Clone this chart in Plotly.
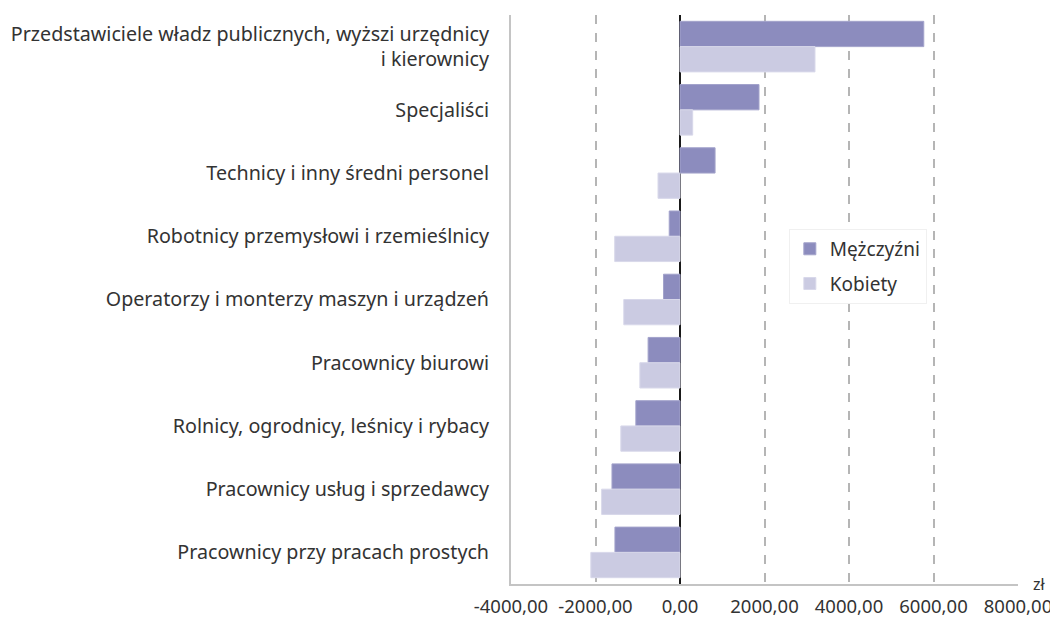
"""Różnica wynagrodzeń wg grup zawodów — poziomy wykres słupkowy (Plotly)."""

import plotly.graph_objects as go

categories = [
    "Przedstawiciele władz publicznych, wyższi urzędnicy<br>i kierownicy",
    "Specjaliści",
    "Technicy i inny średni personel",
    "Robotnicy przemysłowi i rzemieślnicy",
    "Operatorzy i monterzy maszyn i urządzeń",
    "Pracownicy biurowi",
    "Rolnicy, ogrodnicy, leśnicy i rybacy",
    "Pracownicy usług i sprzedawcy",
    "Pracownicy przy pracach prostych",
]
men = [5770, 1870, 830, -255, -390, -755, -1045, -1610, -1540]
women = [3195, 300, -520, -1545, -1330, -950, -1400, -1855, -2110]

tick_vals = [-4000, -2000, 0, 2000, 4000, 6000, 8000]
tick_text = ["-4000,00", "-2000,00", "0,00", "2000,00", "4000,00", "6000,00", "8000,00"]

FONT = "Noto Sans, Open Sans, sans-serif"
TEXT = "#333333"

fig = go.Figure()

# Mężczyźni — ciemniejszy fiolet, Kobiety — jasny
fig.add_trace(
    go.Bar(
        y=categories,
        x=men,
        name="Mężczyźni",
        legendgroup="m",
        orientation="h",
        marker=dict(color="#8c8cbe", line=dict(color="#a3a3cb", width=1)),
    )
)
fig.add_trace(
    go.Bar(
        y=categories,
        x=women,
        name="Kobiety",
        legendgroup="k",
        orientation="h",
        marker=dict(color="#cbcbe2", line=dict(color="#d8d8ea", width=1)),
    )
)

fig.add_annotation(
    text="zł",
    xref="paper",
    yref="paper",
    x=1.043,
    y=0.0,
    xanchor="center",
    yanchor="middle",
    showarrow=False,
    font=dict(size=16, color=TEXT, family=FONT),
)

# page body has an 8px margin, so the figure is a bit smaller than the window
fig.update_layout(
    width=1050,
    height=611,
    barmode="group",
    bargap=0.2,
    bargroupgap=0,
    paper_bgcolor="white",
    plot_bgcolor="white",
    font=dict(family=FONT, size=19.7, color=TEXT),
    margin=dict(l=503, r=40, t=7, b=35),
    showlegend=True,
    legend=dict(
        x=0.548,
        y=0.624,
        xanchor="left",
        yanchor="top",
        traceorder="grouped",
        bgcolor="white",
        bordercolor="#f0f0f0",
        borderwidth=1,
        font=dict(size=19, color=TEXT, family=FONT),
        itemwidth=30,
        tracegroupgap=7,
    ),
    xaxis=dict(
        range=[-4000, 8000],
        tickvals=tick_vals,
        ticktext=tick_text,
        showgrid=True,
        gridcolor="#b5b5b5",
        griddash="dash",
        gridwidth=1.5,
        zeroline=True,
        zerolinecolor="#1a1a1a",
        zerolinewidth=2,
        showline=True,
        linecolor="#c4c4c4",
        linewidth=2,
        ticks="",
        ticklabelstandoff=5,
        tickfont=dict(size=18.5, color=TEXT, family=FONT),
        automargin=False,
        fixedrange=True,
    ),
    yaxis=dict(
        autorange="reversed",
        showgrid=False,
        zeroline=False,
        showline=True,
        linecolor="#c4c4c4",
        linewidth=2,
        ticks="",
        ticklabelstandoff=16,
        tickfont=dict(size=19.7, color=TEXT, family=FONT),
        automargin=False,
        fixedrange=True,
    ),
)

fig.write_html("out.html")
